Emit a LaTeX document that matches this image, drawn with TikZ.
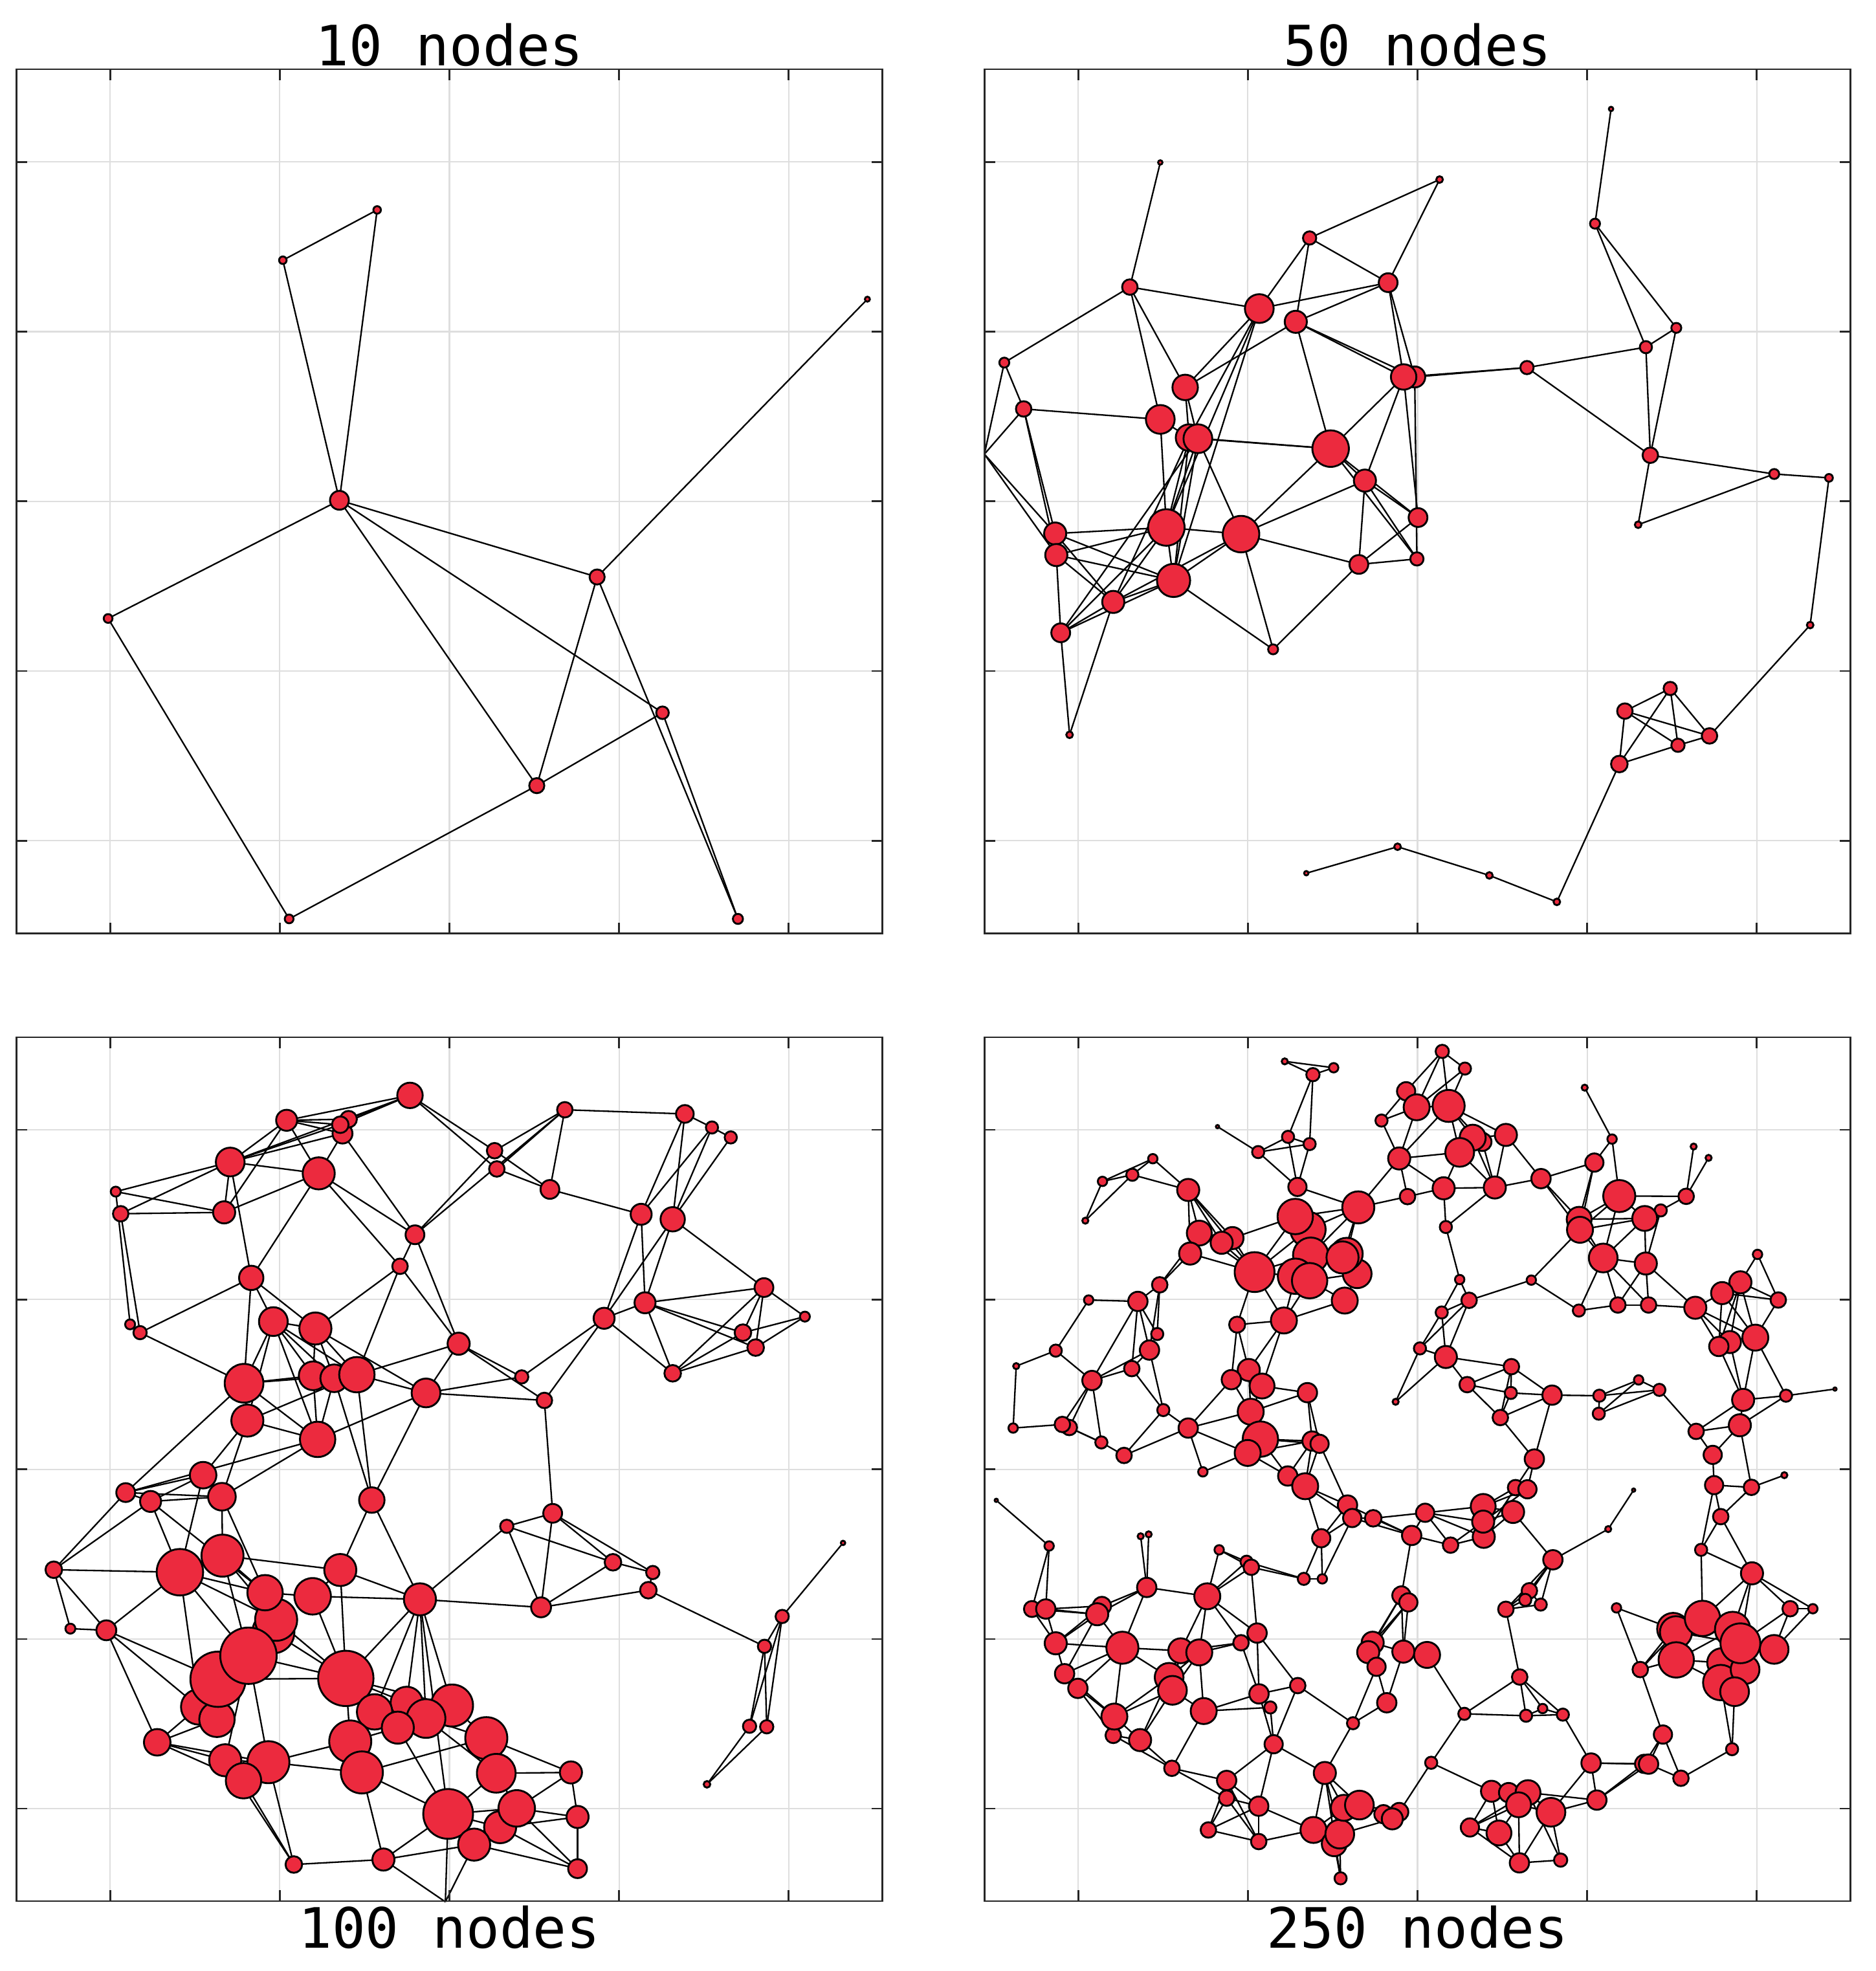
\documentclass[tikz,border=0pt]{standalone}
\usepackage{fontspec}
\newfontfamily\ttlfont{DejaVu Sans Mono}
\pgfdeclarelayer{gridl}
\pgfdeclarelayer{edgel}
\pgfdeclarelayer{topl}
\pgfsetlayers{gridl,edgel,main,topl}
\definecolor{nred}{RGB}{236,42,62}
\definecolor{gridc}{RGB}{222,222,222}
\definecolor{axc}{RGB}{38,38,38}
\tikzset{
 nd/.style={circle, draw=black, line width=0.42pt, fill=nred, inner sep=0pt, outer sep=0pt, minimum size={(#1)*0.2mm}},
 nw/.style={nd={(#1)*0.44}},
 nu/.style={nd={(#1)*0.22}},
 lnk/.style={line width=0.34pt, draw=black},
 gridln/.style={line width=0.3pt, draw=gridc},
 axln/.style={line width=0.38pt, draw=axc},
 ttl/.style={font=\ttlfont\fontsize{12.6}{15}\selectfont, inner sep=0pt, anchor=base},
}
\newcommand\vtw[4]{\node[nw=#1] (#2) at (#3,#4) {};}
\newcommand\vtu[4]{\node[nu=#1] (#2) at (#3,#4) {};}
\begin{document}
\begin{tikzpicture}[x=0.1mm, y=-0.1mm]
\useasboundingbox (0,0) rectangle (1492,1568);

% ---------- grid, frames, ticks ----------
\begin{pgfonlayer}{gridl}
\foreach \X/\Y in {13.0/55.1, 783.1/55.1, 13.0/825.1, 783.1/825.1} {
  \foreach \k in {0,...,4} {
    \draw[gridln] ({\X+74.7+\k*134.9},\Y) -- ++(0,687.3);
    \draw[gridln] (\X,{\Y+73.7+\k*135}) -- ++(689,0);
  }
}
\end{pgfonlayer}
\begin{pgfonlayer}{topl}
\foreach \X/\Y in {13.0/55.1, 783.1/55.1, 13.0/825.1, 783.1/825.1} {
  \draw[axln] (\X,\Y) rectangle ++(689,687.3);
  \foreach \k in {0,...,4} {
    \draw[axln] ({\X+74.7+\k*134.9},\Y) -- ++(0,8.6);
    \draw[axln] ({\X+74.7+\k*134.9},{\Y+687.3}) -- ++(0,-8.6);
    \draw[axln] (\X,{\Y+73.7+\k*135}) -- ++(8.6,0);
    \draw[axln] ({\X+689},{\Y+73.7+\k*135}) -- ++(-8.6,0);
  }
}
\end{pgfonlayer}

% ---------- titles ----------
\node[ttl] (t10) at (357.5,52.3) {10 nodes};
\node[ttl] (t50) at (1127.6,52.3) {50 nodes};
\node[ttl] (t100) at (357.5,1549.7) {100 nodes};
\node[ttl] (t250) at (1127.6,1549.7) {250 nodes};

% ---------- 10 nodes ----------
\node[nd=3] (a1) at (300,167) {};
\node[nd=3] (a2) at (225,207) {};
\node[nd=7.5] (a3) at (270,398) {};
\node[nd=2] (a4) at (690,238) {};
\node[nd=3.5] (a5) at (86,492) {};
\node[nd=6] (a6) at (475,459) {};
\node[nd=5] (a7) at (527,567) {};
\node[nd=6] (a8) at (427,625) {};
\node[nd=3.5] (a9) at (230,731) {};
\node[nd=4] (a10) at (587,731) {};

% ---------- 50 nodes ----------
\begin{scope}[shift={(783.07,55.09)}, xscale=0.43997, yscale=0.43866]
\vtw{4}{b1}{1133}{72}
\vtw{9}{b2}{1104}{280}
\vtw{9}{b3}{1251}{469}
\vtw{11}{b4}{1196}{504}
\vtw{12}{b5}{981}{541}
\vtw{14}{b6}{1204}{700}
\vtw{9}{b7}{1428}{734}
\vtw{7}{b8}{1527}{741}
\vtw{6}{b9}{1182}{826}
\vtw{6}{b10}{1493}{1008}
\vtw{4}{b11}{318}{169}
\vtw{6}{b12}{823}{200}
\vtw{12}{b13}{588}{306}
\vtw{17}{b14}{730}{387}
\vtw{14}{b15}{263}{395}
\vtw{26}{b16}{497}{434}
\vtw{20}{b17}{563}{458}
\vtw{9}{b18}{36}{532}
\vtw{14}{b19}{71}{616}
\vtw{23}{b20}{363}{577}
\vtw{26}{b21}{318}{635}
\vtw{19}{b23}{778}{558}
\vtw{23}{b22}{758}{558}
\vtw{24}{b24}{370}{668}
\vtw{26}{b25}{386}{670}
\vtw{33}{b26}{626}{688}
\coordinate (b27) at (0,698);
\vtw{20}{b28}{128}{842}
\vtw{20}{b29}{130}{881}
\vtw{33}{b30}{329}{831}
\vtw{33}{b31}{464}{843}
\vtw{20}{b32}{688}{746}
\vtw{17}{b33}{784}{813}
\vtw{12}{b34}{782}{888}
\vtw{17}{b35}{677}{898}
\vtw{30}{b36}{342}{927}
\vtw{20}{b37}{233}{966}
\vtw{17}{b38}{138}{1022}
\vtw{9}{b39}{522}{1052}
\vtw{6}{b40}{154}{1207}
\vtw{12}{b41}{1240}{1123}
\vtw{14}{b42}{1158}{1164}
\vtw{14}{b43}{1311}{1209}
\vtw{12}{b44}{1254}{1226}
\vtw{15}{b45}{1148}{1260}
\vtw{6}{b46}{747}{1410}
\vtw{4}{b47}{582}{1458}
\vtw{6}{b48}{913}{1462}
\vtw{6}{b49}{1035}{1510}
\end{scope}

% ---------- 100 nodes, upper part ----------
\begin{scope}[shift={(12.87,824.77)}, xscale=0.43997, yscale=0.21999]
\vtw{23}{c1}{712}{212}
\vtw{19}{c2}{489}{302}
\vtw{18}{c5}{590}{350}
\vtw{15}{c3}{601}{298}
\vtw{15}{c4}{586}{318}
\vtw{14}{c6}{992}{264}
\vtw{16}{c7}{1209}{279}
\vtw{11}{c8}{1258}{328}
\vtw{11}{c9}{1292}{364}
\vtw{26}{c10}{387}{453}
\vtw{29}{c11}{547}{494}
\vtw{14}{c12}{865}{412}
\vtw{14}{c13}{869}{478}
\vtw{9}{c14}{180}{560}
\vtw{14}{c15}{189}{640}
\vtw{20}{c16}{376}{635}
\vtw{17}{c17}{965}{552}
\vtw{19}{c18}{1130}{642}
\vtw{22}{c19}{1187}{660}
\vtw{17}{c20}{721}{716}
\vtw{14}{c21}{694}{830}
\vtw{22}{c22}{425}{872}
\vtw{17}{c23}{1352}{907}
\vtw{19}{c24}{1137}{962}
\vtw{19}{c25}{1063}{1018}
\vtw{9}{c26}{1426}{1012}
\vtw{9}{c27}{206}{1040}
\vtw{12}{c28}{224}{1070}
\vtw{26}{c29}{465}{1030}
\vtw{29}{c30}{541}{1055}
\vtw{15}{c31}{1314}{1070}
\vtw{15}{c32}{1337}{1124}
\vtw{20}{c33}{800}{1110}
\vtw{15}{c34}{1187}{1217}
\vtw{12}{c35}{914}{1230}
\vtw{35}{c36}{412}{1253}
\vtw{26}{c37}{537}{1226}
\vtw{25}{c38}{575}{1235}
\vtw{32}{c39}{616}{1222}
\vtw{26}{c40}{741}{1288}
\vtw{14}{c41}{955}{1315}
\vtw{29}{c42}{418}{1388}
\vtw{32}{c43}{545}{1456}
\end{scope}

% ---------- 100 nodes, lower part ----------
\begin{scope}[shift={(12.87,1168.69)}, xscale=0.43997, yscale=0.21999]
\vtw{24}{d1}{338}{22}
\vtw{17}{d2}{198}{85}
\vtw{19}{d3}{243}{117}
\vtw{25}{d4}{372}{100}
\vtw{23}{d5}{643}{112}
\vtw{17}{d6}{970}{160}
\vtw{12}{d7}{887}{207}
\vtw{15}{d8}{1079}{337}
\vtw{12}{d9}{1151}{374}
\vtw{15}{d10}{1143}{438}
\vtw{4}{d11}{1495}{267}
\vtw{15}{d12}{68}{364}
\vtw{42}{d13}{296}{373}
\vtw{38}{d14}{373}{313}
\vtw{29}{d15}{586}{365}
\vtw{38}{d24}{465}{590}
\vtw{38}{d23}{470}{545}
\vtw{32}{d16}{450}{447}
\vtw{33}{d17}{536}{460}
\vtw{29}{d18}{730}{471}
\vtw{18}{d19}{949}{500}
\vtw{12}{d20}{1385}{533}
\vtw{9}{d21}{98}{577}
\vtw{18}{d22}{163}{583}
\vtw{12}{d25}{1353}{641}
\vtw{32}{d29}{330}{860}
\vtw{32}{d30}{363}{905}
\vtw{50}{d27}{365}{760}
\vtw{51}{d26}{420}{675}
\vtw{50}{d28}{596}{757}
\vtw{29}{d31}{706}{845}
\vtw{38}{d33}{788}{855}
\vtw{32}{d32}{648}{878}
\vtw{35}{d34}{741}{902}
\vtw{29}{d35}{690}{935}
\vtw{38}{d36}{604}{985}
\vtw{24}{d37}{255}{988}
\vtw{38}{d38}{850}{973}
\vtw{29}{d39}{378}{1053}
\vtw{38}{d40}{456}{1060}
\vtw{32}{d41}{411}{1127}
\vtw{38}{d42}{625}{1097}
\vtw{35}{d43}{868}{1100}
\vtw{20}{d44}{1003}{1097}
\vtw{12}{d45}{1326}{930}
\vtw{12}{d46}{1357}{932}
\vtw{6}{d47}{1249}{1140}
\vtw{45}{d48}{781}{1247}
\vtw{29}{d50}{875}{1295}
\vtw{33}{d49}{905}{1227}
\vtw{20}{d51}{1015}{1258}
\vtw{29}{d52}{828}{1358}
\vtw{15}{d53}{502}{1430}
\vtw{20}{d54}{664}{1412}
\vtw{17}{d55}{1015}{1445}
\coordinate (dz) at (776,1565);
\end{scope}

% ---------- 250 nodes, Q1 ----------
\begin{scope}[shift={(783.07,824.77)}, scale=0.21999]
\vtu{11}{e1}{1086}{89}
\vtu{17}{e2}{1263}{112}
\vtu{24}{e3}{1188}{137}
\vtu{6}{e4}{843}{325}
\vtu{22}{e5}{1098}{362}
\vtu{22}{e6}{1176}{388}
\vtu{22}{e7}{990}{417}
\vtu{17}{e8}{609}{441}
\vtu{22}{e9}{535}{499}
\vtu{17}{e10}{427}{523}
\vtu{11}{e11}{365}{665}
\vtu{40}{e12}{737}{554}
\vtu{33}{e13}{1132}{543}
\vtu{58}{e14}{1352}{617}
\vtu{64}{e16}{1170}{697}
\vtu{64}{e15}{1124}{650}
\vtu{45}{e17}{777}{710}
\vtu{40}{e18}{897}{728}
\vtu{40}{e19}{858}{745}
\vtu{40}{e20}{744}{784}
\vtu{72}{e21}{977}{851}
\vtu{64}{e22}{1180}{790}
\vtu{52}{e24}{1348}{857}
\vtu{58}{e23a}{1310}{785}
\vtu{58}{e23}{1295}{798}
\vtu{64}{e25}{1125}{866}
\vtu{64}{e26}{1176}{882}
\vtu{47}{e27}{1303}{954}
\vtu{28}{e28}{634}{897}
\vtu{17}{e29}{377}{952}
\vtu{35}{e30}{555}{957}
\vtu{29}{e31}{914}{1041}
\vtu{47}{e32}{1083}{1026}
\vtu{22}{e33}{625}{1075}
\vtu{35}{e34}{597}{1133}
\vtu{22}{e35}{258}{1135}
\vtu{11}{e36}{115}{1191}
\vtu{28}{e37}{533}{1200}
\vtu{35}{e38}{389}{1243}
\vtu{40}{e39}{956}{1205}
\vtu{35}{e40}{893}{1240}
\vtu{45}{e41}{1004}{1263}
\vtu{35}{e42}{1168}{1287}
\vtu{47}{e43}{963}{1356}
\vtu{22}{e44}{647}{1350}
\vtu{17}{e45}{104}{1415}
\vtu{28}{e47}{307}{1413}
\vtu{28}{e46}{282}{1402}
\vtu{35}{e48}{737}{1415}
\vtu{22}{e49}{423}{1467}
\vtu{28}{e50}{505}{1514}
\vtu{64}{e51}{998}{1455}
\vtu{47}{e52}{952}{1505}
\vtu{35}{e53}{1185}{1462}
\vtu{33}{e54}{1212}{1472}
\vtu{33}{e55}{1525}{197}
\vtu{47}{e56}{1563}{255}
\vtu{22}{e57}{1436}{303}
\vtu{40}{e58}{1500}{440}
\vtu{28}{e59}{1530}{578}
\vtu{22}{e60}{1575}{1127}
\vtu{11}{e61}{1487}{1320}
\end{scope}

% ---------- 250 nodes, Q2 ----------
\begin{scope}[shift={(1127.50,824.77)}, scale=0.21999]
\vtu{24}{f1}{90}{53}
\vtu{22}{f2}{172}{115}
\vtu{58}{f3}{113}{250}
\vtu{33}{f5}{235}{380}
\vtu{47}{f4}{200}{365}
\vtu{40}{f6}{320}{355}
\vtu{52}{f7}{153}{418}
\vtu{40}{f8}{95}{548}
\vtu{40}{f9}{280}{545}
\vtu{35}{f10}{447}{513}
\vtu{22}{f11}{103}{688}
\vtu{11}{f12}{605}{184}
\vtu{17}{f13}{704}{370}
\vtu{33}{f14}{640}{455}
\vtu{58}{f15}{730}{576}
\vtu{11}{f16}{999}{397}
\vtu{11}{f17}{1053}{438}
\vtu{28}{f18}{972}{577}
\vtu{22}{f19}{880}{628}
\vtu{45}{f20}{822}{657}
\vtu{45}{f21}{585}{660}
\vtu{47}{f22}{588}{698}
\vtu{52}{f23}{672}{800}
\vtu{40}{f24}{826}{820}
\vtu{17}{f25}{153}{878}
\vtu{17}{f26}{412}{880}
\vtu{28}{f27}{187}{953}
\vtu{22}{f28}{88}{997}
\vtu{22}{f29}{584}{990}
\vtu{28}{f30}{725}{970}
\vtu{28}{f31}{836}{970}
\vtu{40}{f32}{1005}{980}
\vtu{17}{f33}{1230}{787}
\vtu{40}{f34}{1168}{888}
\vtu{40}{f35}{1102}{927}
\vtu{28}{f36}{1305}{952}
\vtu{47}{f37}{1222}{1088}
\vtu{40}{f38}{1130}{1104}
\vtu{35}{f39}{1090}{1120}
\vtu{40}{f40}{103}{1158}
\vtu{28}{f41}{340}{1193}
\vtu{28}{f42}{180}{1258}
\vtu{22}{f43}{338}{1288}
\vtu{35}{f44}{487}{1296}
\vtu{17}{f45}{800}{1241}
\vtu{22}{f46}{658}{1298}
\vtu{22}{f47}{875}{1277}
\vtu{22}{f48}{656}{1363}
\vtu{28}{f49}{300}{1377}
\vtu{40}{f50}{1178}{1313}
\vtu{22}{f51}{1333}{1298}
\vtu{6}{f52}{1510}{1274}
\vtu{28}{f53}{1008}{1427}
\vtu{40}{f54}{1166}{1405}
\vtu{35}{f55}{423}{1527}
\vtu{33}{f56}{1068}{1512}
\end{scope}

% ---------- 250 nodes, Q3 ----------
\begin{scope}[shift={(783.07,1168.69)}, scale=0.21999]
\vtu{17}{g1}{790}{10}
\vtu{35}{g2}{1097}{25}
\vtu{47}{g3}{1160}{62}
\vtu{35}{g4}{1313}{130}
\vtu{33}{g5}{1330}{177}
\vtu{30}{g6}{1406}{178}
\vtu{35}{g7}{1545}{240}
\vtu{6}{g9}{43}{113}
\vtu{17}{g10}{234}{278}
\vtu{11}{g11}{565}{243}
\vtu{11}{g12}{594}{236}
\vtu{17}{g13}{849}{292}
\vtu{22}{g14}{948}{335}
\vtu{28}{g15}{965}{355}
\vtu{22}{g16}{1155}{397}
\vtu{17}{g17}{1222}{397}
\vtu{33}{g18}{1218}{250}
\vtu{29}{g19}{172}{506}
\vtu{35}{g20}{222}{506}
\vtu{33}{g21}{425}{495}
\vtu{40}{g22}{408}{525}
\vtu{35}{g23}{587}{428}
\vtu{47}{g24}{806}{460}
\vtu{40}{g25}{258}{630}
\vtu{58}{g26}{499}{646}
\vtu{45}{g27}{710}{657}
\vtu{47}{g28}{777}{663}
\vtu{28}{g29}{928}{628}
\vtu{35}{g30}{986}{593}
\vtu{35}{g31}{290}{740}
\vtu{35}{g32}{338}{793}
\vtu{52}{g33}{668}{753}
\vtu{52}{g34}{680}{800}
\vtu{47}{g35}{793}{875}
\vtu{35}{g36}{993}{813}
\vtu{22}{g37}{1034}{862}
\vtu{28}{g38}{1133}{783}
\vtu{28}{g40}{466}{963}
\vtu{47}{g39}{470}{895}
\vtu{40}{g41}{563}{980}
\vtu{33}{g42}{1046}{995}
\vtu{22}{g43}{1333}{919}
\vtu{33}{g44}{1508}{457}
\vtu{33}{g45}{1533}{482}
\vtu{40}{g46}{1404}{628}
\vtu{40}{g47}{1388}{662}
\vtu{33}{g48}{1418}{715}
\vtu{40}{g49}{1515}{660}
\vtu{35}{g50}{1455}{845}
\vtu{28}{g51}{678}{1082}
\vtu{35}{g52}{876}{1126}
\vtu{28}{g53}{876}{1190}
\vtu{35}{g54}{992}{1219}
\vtu{28}{g55}{810}{1305}
\vtu{28}{g56}{992}{1347}
\vtu{40}{g57}{1231}{1099}
\vtu{47}{g58}{1190}{1305}
\vtu{45}{g62}{1265}{1355}
\vtu{52}{g61}{1285}{1320}
\vtu{47}{g59}{1300}{1225}
\vtu{52}{g60}{1356}{1215}
\vtu{33}{g63}{1443}{1248}
\vtu{33}{g63b}{1500}{1240}
\vtu{38}{g64}{1475}{1265}
\vtu{22}{g65}{1288}{1480}
\end{scope}

% ---------- 250 nodes, Q4 ----------
\begin{scope}[shift={(1127.50,1168.69)}, scale=0.21999]
\vtu{33}{h1}{1073}{58}
\vtu{28}{h2}{1208}{66}
\vtu{11}{h3}{1327}{22}
\vtu{28}{h4}{1097}{172}
\vtu{22}{h5}{1026}{292}
\vtu{40}{h6}{1210}{377}
\vtu{28}{h7}{1348}{505}
\vtu{17}{h8}{1430}{505}
\vtu{58}{h11}{925}{578}
\vtu{58}{h10}{935}{590}
\vtu{64}{h9}{1031}{540}
\vtu{64}{h12}{936}{690}
\vtu{28}{h13}{806}{725}
\vtu{17}{h14}{720}{502}
\vtu{52}{h18}{1100}{700}
\vtu{64}{h15}{1140}{580}
\vtu{52}{h17}{1290}{652}
\vtu{64}{h20}{1097}{772}
\vtu{52}{h19}{1185}{725}
\vtu{72}{h16}{1168}{630}
\vtu{52}{h21}{1147}{805}
\vtu{22}{h22}{1138}{1013}
\vtu{33}{h23}{888}{960}
\vtu{28}{h24}{953}{1118}
\vtu{33}{h25}{820}{1066}
\vtu{35}{h26}{836}{1067}
\vtu{35}{h27}{628}{1063}
\vtu{35}{h28}{649}{1197}
\vtu{6}{h29}{782}{76}
\vtu{11}{h30}{690}{217}
\vtu{35}{h31}{490}{328}
\vtu{28}{h32}{405}{440}
\vtu{22}{h33}{390}{473}
\vtu{22}{h34}{446}{490}
\vtu{28}{h35}{320}{507}
\vtu{28}{h36}{355}{67}
\vtu{33}{h37}{398}{73}
\vtu{33}{h38}{28}{158}
\vtu{45}{h39}{238}{135}
\vtu{40}{h41}{240}{245}
\vtu{40}{h40}{238}{190}
\vtu{40}{h42}{346}{155}
\vtu{28}{h43}{120}{275}
\vtu{47}{h46}{35}{672}
\vtu{28}{h47}{370}{752}
\vtu{22}{h48}{170}{885}
\vtu{22}{h49}{393}{892}
\vtu{17}{h50}{453}{866}
\vtu{22}{h51}{526}{888}
\vtu{22}{h52}{50}{1062}
\vtu{38}{h53}{268}{1165}
\vtu{35}{h54}{330}{1170}
\vtu{45}{h55}{400}{1170}
\vtu{45}{h56}{366}{1214}
\vtu{52}{h57}{483}{1241}
\vtu{33}{h58}{190}{1296}
\vtu{45}{h59}{295}{1316}
\vtu{35}{h60}{369}{1424}
\vtu{24}{h61}{518}{1414}
\end{scope}

% ---------- connectors ----------
\begin{pgfonlayer}{edgel}
\foreach \s/\t in {a1/a2, a1/a3, a2/a3, a3/a5, a3/a6, a3/a7, a3/a8, a5/a9, a9/a8, a8/a7, a8/a6, a6/a4, a6/a10, a7/a10}
  \draw[lnk] (\s) -- (\t);
\foreach \s/\t in {b1/b2, b2/b4, b2/b3, b3/b4, b3/b6, b4/b6, b4/b5, b5/b22, b5/b23, b5/b6, b6/b7, b6/b9, b9/b7, b7/b8, b8/b10, b10/b43, b41/b42, b41/b44, b41/b45, b41/b43, b42/b44, b42/b43, b42/b45, b45/b44, b44/b43, b45/b49, b49/b48, b48/b46, b46/b47, b11/b15, b12/b13, b12/b14, b13/b14, b13/b16, b13/b17, b14/b16, b14/b17, b14/b22, b14/b23, b15/b16, b15/b20, b15/b18, b15/b21, b16/b20, b16/b24, b16/b30, b16/b36, b17/b20, b17/b22, b17/b23, b17/b26, b18/b19, b18/b27, b19/b21, b19/b27, b19/b28, b19/b29, b27/b28, b27/b29, b20/b24, b20/b25, b21/b24, b21/b30, b24/b26, b25/b26, b24/b30, b25/b30, b25/b36, b24/b36, b25/b31, b24/b37, b25/b38, b26/b22, b26/b32, b26/b31, b26/b33, b26/b34, b22/b32, b22/b33, b23/b34, b32/b31, b32/b35, b32/b33, b32/b34, b33/b35, b34/b35, b35/b31, b35/b39, b31/b39, b31/b36, b31/b30, b31/b37, b30/b28, b30/b29, b30/b37, b30/b38, b30/b36, b36/b28, b36/b29, b36/b37, b36/b38, b36/b39, b28/b29, b28/b37, b29/b37, b29/b38, b37/b38, b37/b40, b38/b40}
  \draw[lnk] (\s) -- (\t);
\foreach \s/\t in {c1/c2, c1/c3, c1/c4, c1/c10, c1/c12, c1/c13, c5/c11, c2/c3, c2/c4, c2/c5, c2/c10, c2/c11, c2/c16, c10/c4, c10/c5, c10/c11, c10/c14, c10/c15, c10/c16, c10/c22, c14/c16, c14/c27, c15/c16, c15/c28, c11/c16, c11/c20, c11/c21, c11/c22, c5/c20, c12/c6, c13/c6, c6/c20, c12/c17, c13/c17, c12/c20, c6/c7, c6/c17, c7/c8, c8/c9, c7/c18, c7/c19, c8/c18, c8/c19, c9/c19, c17/c18, c18/c24, c18/c25, c19/c23, c19/c24, c19/c25, c20/c21, c20/c33, c21/c30, c21/c33, c21/c39, c22/c28, c22/c29, c22/c30, c22/c36, c23/c24, c23/c26, c23/c31, c23/c32, c23/c34, c24/c25, c24/c31, c24/c32, c24/c34, c25/c34, c25/c35, c25/c41, c26/c31, c26/c32, c31/c34, c32/c34, c28/c27, c28/c36, c29/c30, c29/c36, c29/c37, c29/c38, c29/c39, c29/c42, c29/c43, c30/c37, c30/c38, c30/c39, c30/c40, c33/c39, c33/c40, c33/c35, c33/c41, c35/c40, c41/c40, c41/d6, c36/c37, c36/c42, c36/c43, c36/c39, c37/c43, c38/c43, c39/c42, c39/c40, c40/c43, c40/d5, c42/c43, c42/d1, c42/d4, c43/d4, c43/d2, c36/d2, c38/d5, c39/d5}
  \draw[lnk] (\s) -- (\t);
\foreach \s/\t in {d2/d1, d2/d4, d2/d3, d3/d4, d3/d1, d4/d1, d2/d12, d3/d12, d3/d13, d3/d16, d4/d14, d4/d16, d1/d13, d5/d15, d5/d18, d6/d7, d6/d8, d6/d9, d6/d19, d7/d18, d7/d8, d7/d19, d8/d9, d8/d19, d9/d10, d10/d19, d10/d25, d11/d20, d20/d25, d20/d45, d20/d46, d25/d45, d25/d46, d45/d47, d46/d47, d12/d13, d12/d21, d12/d22, d21/d22, d13/d22, d13/d14, d13/d16, d13/d23, d13/d26, d13/d29, d14/d15, d14/d16, d14/d23, d14/d26, d15/d17, d15/d18, d15/d28, d16/d17, d16/d23, d17/d18, d17/d28, d18/d19, d18/d28, d18/d31, d18/d33, d18/d48, d18/d34, d18/d32, d22/d27, d22/d29, d22/d37, d26/d27, d26/d28, d26/d29, d26/d30, d26/d39, d26/d40, d27/d28, d28/d31, d28/d32, d28/d36, d28/d33, d29/d30, d29/d37, d30/d37, d37/d39, d37/d40, d37/d41, d39/d40, d40/d41, d40/d36, d40/d42, d39/d53, d41/d53, d40/d53, d36/d42, d36/d32, d36/d35, d42/d38, d42/d54, d42/d48, d32/d35, d31/d33, d31/d34, d33/d34, d33/d38, d34/d38, d34/d43, d35/d48, d38/d43, d38/d44, d43/d44, d43/d49, d43/d48, d44/d51, d44/d49, d49/d51, d49/d55, d50/d51, d50/d55, d51/d55, d49/d48, d48/d50, d52/d55, d48/d52, d48/d54, d52/d54, d54/d53, d54/dz, d48/dz, d52/dz, d23/d28, d24/d28, d24/d27}
  \draw[lnk] (\s) -- (\t);
\foreach \s/\t in {e1/e2, e1/e3, e2/e3, e3/e5, e3/e6, e4/e7, e5/e6, e5/e7, e7/e6, e5/e13, e6/e13, e7/e13, e13/e14, e8/e9, e8/e10, e9/e10, e9/e11, e10/e11, e8/e12, e9/e12, e12/e17, e12/e18, e12/e19, e12/e20, e12/e21, e17/e20, e17/e21, e18/e21, e19/e21, e20/e21, e18/e15, e17/e19, e17/e18, e20/e28, e17/e28, e21/e15, e21/e16, e21/e22, e21/e25, e21/e31, e21/e32, e14/e15, e14/e16, e14/e22, e14/e23, e14/e23a, e14/e58, e14/e59, e15/e16, e16/e22, e22/e23, e23/e24, e23a/e24, e22/e25, e22/e26, e25/e26, e26/e24, e26/e27, e24/e27, e27/e32, e25/e32, e26/e32, e28/e30, e28/e33, e28/e34, e29/e30, e29/e35, e30/e33, e30/e34, e30/e37, e30/e38, e31/e32, e31/e39, e31/e40, e32/e39, e32/e41, e35/e36, e35/e38, e36/e45, e45/e46, e38/e37, e38/e34, e38/e46, e38/e47, e38/e49, e37/e34, e37/e44, e34/e44, e44/e48, e44/e50, e46/e49, e47/e49, e49/e50, e48/e50, e48/e40, e48/e43, e48/e52, e39/e40, e39/e41, e39/e43, e40/e43, e41/e42, e41/e43, e43/e42, e43/e51, e42/e53, e42/e54, e51/e53, e51/e54, e52/e53, e51/e52, e52/e43, e56/e55, e55/e57, e56/e57, e57/e58, e56/e58, e58/e59, e60/e61}
  \draw[lnk] (\s) -- (\t);
\foreach \s/\t in {f1/f2, f1/f3, f2/f3, f3/f4, f3/f5, f3/f6, f3/f7, f4/f5, f4/f6, f6/f9, f6/f10, f7/f8, f7/f9, f4/f9, f5/f9, f7/f4, f8/f9, f8/f11, f9/f10, f9/f11, f10/f14, f10/f21, f10/f22, f11/f25, f12/f13, f13/f14, f13/f15, f14/f21, f14/f22, f15/f18, f15/f20, f15/f21, f15/f22, f15/f23, f16/f18, f17/f18, f18/f19, f19/f20, f19/f24, f20/f21, f20/f22, f20/f23, f20/f24, f21/f23, f22/f23, f22/f26, f23/f24, f23/f29, f23/f30, f23/f31, f24/f30, f24/f31, f24/f32, f26/f27, f26/f29, f25/f27, f25/f28, f27/f28, f27/f40, f28/f40, f29/f30, f30/f31, f31/f32, f32/f35, f32/f39, f32/f38, f32/f37, f33/f34, f33/f36, f34/f35, f34/f36, f34/f37, f35/f36, f35/f37, f35/f39, f36/f37, f34/f38, f34/f39, f37/f51, f37/f50, f38/f50, f39/f50, f50/f51, f51/f52, f50/f54, f51/f54, f50/f53, f53/f54, f53/f47, f53/f56, f54/f56, f40/f41, f40/f42, f41/f42, f41/f43, f41/f44, f41/f49, f42/f43, f42/f49, f43/f44, f43/f49, f44/f46, f44/f49, f44/f55, f46/f45, f46/f48, f45/f47, f46/f47, f48/f45, f48/f47, f49/f55}
  \draw[lnk] (\s) -- (\t);
\foreach \s/\t in {g9/g10, g10/g19, g10/g20, g19/g20, g19/g25, g20/g21, g20/g22, g20/g25, g19/g22, g11/g23, g12/g23, g21/g23, g22/g23, g23/g24, g23/g26, g13/g24, g13/g14, g13/g15, g14/g15, g14/g24, g15/g24, g15/g16, g14/g16, g15/g30, g16/g17, g16/g18, g17/g18, g18/g3, g18/g4, g18/g5, g17/g5, g3/g4, g3/g5, g4/g5, g5/g6, g6/g7, g4/g7, g5/g7, g3/g2, g24/g27, g24/g28, g24/g29, g24/g30, g25/g26, g25/g31, g25/g22, g21/g25, g22/g26, g22/g31, g26/g27, g26/g32, g26/g39, g26/g33, g26/g31, g27/g28, g28/g29, g27/g29, g27/g33, g27/g34, g28/g33, g28/g34, g28/g35, g29/g30, g29/g36, g30/g36, g30/g38, g31/g32, g31/g39, g32/g39, g32/g40, g33/g34, g33/g39, g34/g39, g34/g41, g33/g41, g34/g35, g35/g37, g35/g36, g35/g51, g36/g37, g36/g38, g36/g42, g37/g42, g38/g42, g39/g40, g39/g41, g40/g41, g41/g51, g40/g51, g42/g52, g42/g54, g42/g57, g38/g43, g43/g57, g43/g50, g51/g52, g51/g53, g52/g53, g52/g54, g52/g55, g52/g56, g53/g54, g53/g55, g53/g56, g54/g56, g55/g56, g55/g54, g54/g58, g56/g58, g57/g58, g57/g59, g57/g61, g57/g60, g57/g65, g58/g59, g58/g61, g59/g60, g59/g61, g60/g63, g60/g63b, g60/g64, g61/g62, g61/g64, g62/g65, g61/g65, g63/g64, g63b/g64, g44/g45, g44/g46, g45/g46, g44/g47, g45/g47, g46/g47, g46/g48, g47/g48, g48/g50, g49/g50, g44/g49, g45/g49, g46/g49, g44/g7, g48/g43}
  \draw[lnk] (\s) -- (\t);
\foreach \s/\t in {h1/h2, h2/h3, h1/h4, h2/h4, h1/h5, h4/h5, h4/h6, h5/h6, h5/h9, h6/h7, h6/h8, h7/h8, h6/h9, h6/h15, h6/h16, h7/h16, h7/h17, h8/h17, h9/h10, h9/h15, h9/h16, h9/h12, h10/h11, h10/h12, h10/h13, h11/h13, h11/h14, h14/h13, h13/h12, h13/h23, h12/h18, h12/h20, h15/h16, h16/h17, h16/h19, h18/h19, h18/h20, h20/h21, h19/h21, h21/h22, h20/h22, h12/h15, h10/h16, h22/h24, h23/h24, h23/h25, h23/h26, h24/h26, h25/h26, h25/h27, h26/h27, h26/h28, h25/h28, h27/h28, h27/h51, h27/h57, h28/h57, h28/h55, h29/h30, h30/h31, h31/h32, h31/h33, h31/h34, h31/h35, h31/h42, h32/h33, h32/h35, h33/h35, h34/h35, h32/h34, h35/h47, h36/h37, h36/h39, h37/h39, h37/h40, h36/h41, h38/h39, h38/h40, h38/h41, h38/h43, h39/h40, h39/h42, h40/h42, h41/h42, h43/h41, h40/h43, h46/h48, h47/h48, h47/h49, h47/h50, h47/h51, h48/h49, h48/h52, h49/h51, h50/h51, h49/h50, h52/h53, h53/h54, h53/h56, h53/h58, h53/h59, h54/h55, h54/h56, h55/h56, h55/h57, h56/h57, h56/h58, h55/h58, h56/h59, h56/h60, h57/h61, h55/h61, h58/h59, h58/h60, h59/h60, h60/h61, h57/h60}
  \draw[lnk] (\s) -- (\t);
\foreach \s/\t in {e56/f1, e55/f1, e56/f2, e56/f3, e58/f3, e58/f7, e58/f8, e59/f8, e60/f28, e60/f27, e60/f40, e61/f40, g1/e48, g1/e52, g2/e51, g2/e52, g2/e53, g2/g3, g3/e53, g3/e54, e54/g4, g7/h43, g7/h38, g6/h38, g49/h46, g63b/h52, f55/h36, f55/h37, f56/h1, f54/h2}
  \draw[lnk] (\s) -- (\t);
\end{pgfonlayer}
\end{tikzpicture}
\end{document}
